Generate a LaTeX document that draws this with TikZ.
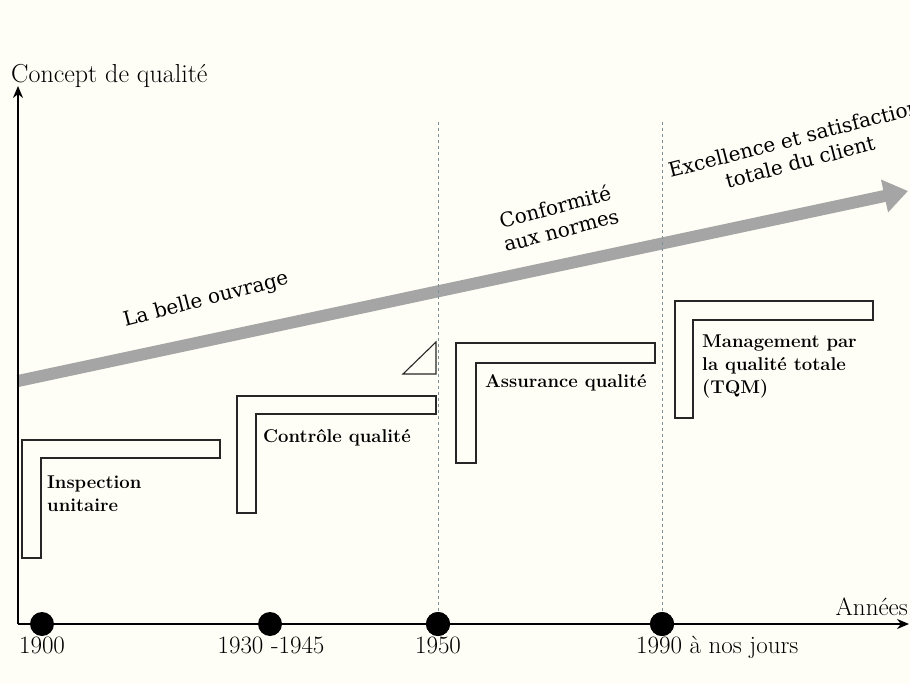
\documentclass[tikz,border=0pt]{standalone}
\usepackage{fontspec}
\newfontfamily\schola{DejaVu Serif}
\usetikzlibrary{arrows.meta}
\definecolor{bg}{RGB}{255,254,246}
\definecolor{band}{RGB}{165,165,165}
\definecolor{dashc}{RGB}{125,145,155}
\tikzset{
  axisline/.style={line width=2.4pt, -{Stealth[length=12pt,width=10pt]}},
  lbox/.style={draw=black!85, line width=1.1pt},
  boxlabel/.style={anchor=base west, inner sep=0pt, align=left, font=\fontsize{18.5}{23}\selectfont\bfseries},
  yearlabel/.style={anchor=base, inner sep=0pt, font=\fontsize{25}{29}\selectfont},
  yeardot/.style={circle, fill=black, minimum size=24pt, inner sep=0pt},
  era/.style={rotate=14.5, align=center, inner sep=0pt, font=\fontsize{20}{24}\schola},
  guide/.style={dash pattern=on 3pt off 3pt, line width=0.8pt, draw=dashc},
}
\begin{document}
\begin{tikzpicture}[x=1pt,y=-1pt]
\fill[bg] (0,0) rectangle (910,684);
\useasboundingbox (0,0) rectangle (910,684);

% gray trend arrow
\coordinate (bs) at (18,381);
\coordinate (be) at (908,191);
\draw[band, line width=12pt, -{Triangle[length=24pt,width=32pt]}] (bs) -- (be);

% axes
\coordinate (O) at (18,624);
\coordinate (ytop) at (18,86);
\coordinate (xend) at (909,624);
\draw[axisline] (O) -- (ytop);
\draw[axisline] (O) -- (xend);
\node[anchor=base west, inner sep=0pt, font=\fontsize{26}{30}\selectfont] (ylab) at (11,83) {Concept de qualité};
\node[anchor=base east, inner sep=0pt, font=\fontsize{25}{29}\selectfont] (xlab) at (908,615) {Années};

% year dots
\node[yeardot] (d1900) at (42,624) {};
\node[yeardot] (d1930) at (270,624) {};
\node[yeardot] (d1950) at (438,624) {};
\node[yeardot] (d1990) at (662,624) {};

% dashed guides
\coordinate (g1) at (438,122);
\coordinate (g2) at (662,122);
\draw[guide] (g1) -- (d1950.center);
\draw[guide] (g2) -- (d1990.center);
\node[yeardot] at (d1950) {};
\node[yeardot] at (d1990) {};

% year labels
\node[yearlabel] (l1900) at (42,653) {1900};
\node[yearlabel] (l1930) at (271,653) {1930 -1945};
\node[yearlabel] (l1950) at (438,653) {1950};
\node[yearlabel, anchor=base west] (l1990) at (636,653) {1990 à nos jours};

% L-shaped boxes
\draw[lbox] (22,440) -- (220,440) -- (220,458) -- (41,458) -- (41,558) -- (22,558) -- cycle;
\draw[lbox] (237,396) -- (436,396) -- (436,414) -- (256,414) -- (256,513) -- (237,513) -- cycle;
\draw[lbox] (456,343) -- (655,343) -- (655,363) -- (476,363) -- (476,463) -- (456,463) -- cycle;
\draw[lbox] (675,301) -- (873,301) -- (873,320) -- (693,320) -- (693,418) -- (675,418) -- cycle;
\draw[lbox] (403,374) -- (436,342) -- (436,374) -- cycle;

\node[boxlabel] (insp) at (47,511) {Inspection\\unitaire};
\node[boxlabel] (ctrl) at (263,442) {Contrôle qualité};
\node[boxlabel] (assu) at (485,388) {Assurance qualité};
\node[boxlabel] (tqm) at (702,393) {Management par\\la qualité totale\\(TQM)};

% era labels
\node[era] (e1) at (206,300) {La belle ouvrage};
\node[era] (e2) at (558,218) {Conformité\\aux normes};
\node[era] (e3) at (797,150) {Excellence et satisfaction\\totale du client};
\end{tikzpicture}
\end{document}
